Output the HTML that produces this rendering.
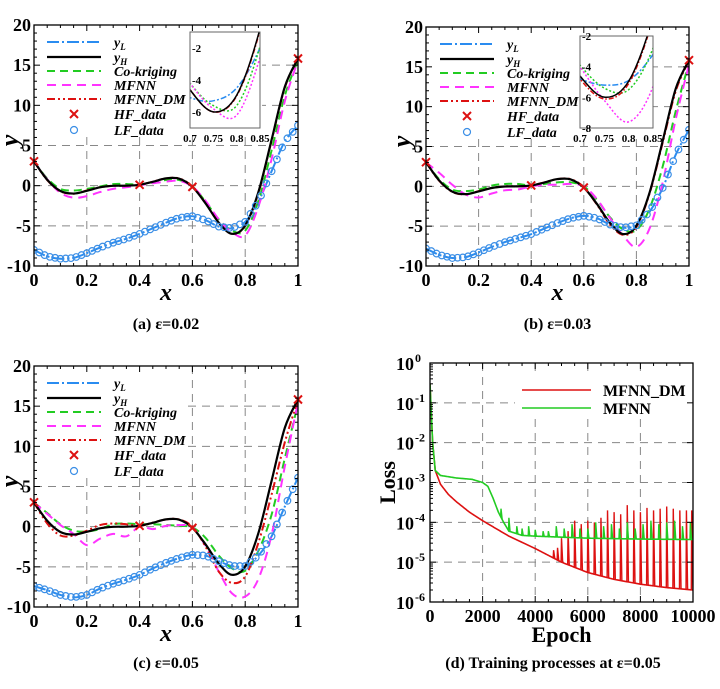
<!DOCTYPE html>
<html><head><meta charset="utf-8"><style>
html,body{margin:0;padding:0;background:#fff;}
svg{display:block;font-family:"Liberation Serif",serif;}
</style></head><body>
<svg id="fig" width="720" height="689" viewBox="0 0 720 689"></svg>
<script>
// ---------- data ----------
const XS = [0,0.05,0.1,0.15,0.2,0.25,0.3,0.35,0.4,0.45,0.5,0.55,0.6,0.65,0.7,0.75,0.8,0.85,0.9,0.95,1];
const yH = [3.03,0.74,-0.66,-0.98,-0.64,-0.21,-0.02,0.0,0.11,0.48,0.91,0.87,-0.15,-2.21,-4.61,-5.99,-4.95,-0.80,5.71,12.30,15.83];
const hfX = [0,0.4,0.6,1];
const hfY = [3.03,0.11,-0.15,15.83];

const lfA  = [-8.0,-8.8,-9.1,-9.0,-8.4,-7.7,-7.1,-6.6,-6.0,-5.3,-4.6,-4.0,-3.8,-4.3,-5.1,-5.3,-4.5,-2.0,1.8,5.5,7.5];
const ckA  = [3.0,0.9,-0.4,-0.6,-0.4,-0.1,0.2,0.2,0.15,0.4,0.7,0.7,-0.1,-2.0,-4.2,-5.6,-5.6,-1.9,4.4,11.2,15.6];
const mfA  = [3.0,0.8,-0.9,-1.5,-1.3,-0.8,-0.4,-0.2,0.05,0.3,0.5,0.6,-0.1,-1.9,-4.2,-5.8,-6.2,-2.6,3.3,10.5,15.6];
const dmA  = [3.0,0.7,-0.7,-1.0,-0.6,-0.2,0.0,0.0,0.1,0.5,0.9,0.9,-0.1,-2.2,-4.6,-6.0,-5.0,-0.9,5.6,12.2,15.8];

const lfB  = [-7.8,-8.6,-9.0,-8.9,-8.3,-7.6,-7.0,-6.5,-6.0,-5.3,-4.6,-4.0,-3.7,-4.0,-4.8,-5.2,-4.9,-3.2,-0.2,4.0,7.1];
const ckB  = [3.0,0.9,-0.4,-0.6,-0.4,0.1,0.3,0.3,0.1,0.3,0.5,0.5,0.0,-1.7,-3.9,-5.4,-5.5,-2.8,2.5,9.5,15.5];
const mfB  = [3.0,1.7,0.2,-1.0,-1.4,-0.9,-0.5,-0.4,0.0,0.2,0.2,0.3,0.0,-1.6,-4.0,-6.2,-7.6,-5.3,0.5,8.5,15.3];
const dmB  = [3.0,0.7,-0.7,-1.0,-0.6,-0.2,0.0,0.0,0.1,0.5,0.9,0.9,-0.1,-2.3,-4.8,-6.1,-5.1,-0.9,5.5,12.0,15.8];

const lfC  = [-7.4,-7.9,-8.5,-8.8,-8.5,-7.7,-7.1,-6.6,-6.0,-5.2,-4.5,-3.9,-3.5,-3.6,-4.3,-4.9,-4.9,-3.6,-1.2,2.5,6.1];
const ckC  = [3.0,1.7,0.3,-0.5,-0.6,-0.3,0.3,0.4,0.3,0.3,0.2,0.1,-0.1,-1.4,-3.6,-5.2,-5.5,-3.0,1.5,8.5,15.3];
const mfC  = [3.0,1.6,0.2,-0.9,-2.3,-1.5,-0.9,-1.2,0.0,-0.3,0.1,0.2,-0.1,-2.4,-5.6,-8.3,-8.7,-6.5,-1.0,7.5,15.5];
const dmC  = [3.0,0.4,-1.1,-1.1,-0.5,0.2,0.4,0.3,0.1,0.5,0.9,0.9,0.0,-2.5,-5.6,-7.0,-6.2,-2.0,4.0,10.5,15.8];

const xTicks = [0,0.2,0.4,0.6,0.8,1];
const xTickLabels = ["0","0.2","0.4","0.6","0.8","1"];
const yTicks = [-10,-5,0,5,10,15,20];

const redEpochs = [0,100,200,400,700,1000,1500,2000,3000,4000,5000,6000,7000,8000,9000,10000];
const redLoss = [0.3,0.01,0.002,0.0009,0.0005,0.00033,0.00018,0.00011,0.000045,0.000022,0.00001,0.0000055,0.0000037,0.0000028,0.0000023,0.000002];
const greenEpochs = [0,100,200,400,1000,1600,2000,2200,2400,2600,2800,3000,3500,4000,6000,8000,10000];
const greenLoss = [0.3,0.01,0.002,0.0015,0.0013,0.0012,0.001,0.0008,0.0004,0.00018,0.0001,0.00006,0.000047,0.000045,0.00004,0.000038,0.000037];
const redSpikeEpochs = [4700,4850,5000,5250,5500,5750,6000,6250,6500,6750,7000,7250,7500,7750,8000,8250,8500,8750,9000,9250,9500,9750,9950];
const redSpikeLoss = [2e-5,2.3e-5,4e-5,6e-5,1.1e-4,9e-5,1.1e-4,1e-4,1.3e-4,2e-4,1.8e-4,1.6e-4,2.7e-4,2e-4,1.8e-4,2.3e-4,2e-4,2.2e-4,2.5e-4,2.2e-4,2e-4,2e-4,2e-4];
const greenSpikeEpochs = [2700,3000,3300,3500,3750,4000,4300,4500,4800,5100,5400,5700,6000,6300,6600,6900,7200,7500,7800,8100,8400,8700,9000,9300,9600,9900];
const greenSpikeLoss = [2.2e-4,1.3e-4,8e-5,7e-5,8e-5,6.5e-5,6e-5,6e-5,8e-5,7e-5,9e-5,7e-5,7e-5,1e-4,8e-5,9e-5,7e-5,1e-4,7e-5,9e-5,1.1e-4,9e-5,1e-4,1.1e-4,8e-5,1e-4];
const epochTicks = [0,2000,4000,6000,8000,10000];
const lossExps = [0,-1,-2,-3,-4,-5,-6];

// ---------- helpers ----------
const NS = "http://www.w3.org/2000/svg";
const svg = document.getElementById("fig");
function mk(tag, attrs, parent){
  const e = document.createElementNS(NS, tag);
  for (const k in attrs) e.setAttribute(k, attrs[k]);
  (parent || svg).appendChild(e);
  return e;
}
function catmull(p){
  if (p.length < 2) return "";
  let d = "M" + p[0][0].toFixed(2) + "," + p[0][1].toFixed(2);
  for (let i = 0; i < p.length - 1; i++){
    const p0 = p[i-1] || p[i], p1 = p[i], p2 = p[i+1], p3 = p[i+2] || p2;
    const c1x = p1[0] + (p2[0]-p0[0])/6, c1y = p1[1] + (p2[1]-p0[1])/6;
    const c2x = p2[0] - (p3[0]-p1[0])/6, c2y = p2[1] - (p3[1]-p1[1])/6;
    d += " C" + c1x.toFixed(2)+","+c1y.toFixed(2)+" "+c2x.toFixed(2)+","+c2y.toFixed(2)+" "+p2[0].toFixed(2)+","+p2[1].toFixed(2);
  }
  return d;
}
function lerp(xa, ya, x){
  for (let i = 0; i < xa.length-1; i++){
    if (x <= xa[i+1]){ const t = (x-xa[i])/(xa[i+1]-xa[i]); return ya[i] + t*(ya[i+1]-ya[i]); }
  }
  return ya[ya.length-1];
}
const STY = {
  yL:{stroke:"#2a8cf0", dash:"12 3 2 3", w:2},
  yH:{stroke:"#000", dash:"", w:2.2},
  ck:{stroke:"#22cc22", dash:"8 5", w:2},
  mf:{stroke:"#ff33ff", dash:"9 6", w:2},
  dm:{stroke:"#dd1111", dash:"8 3 2 3 2 3", w:2}
};
let clipId = 0;

function panel(P){
  const g = mk("g", {});
  
  
  const xs = v => P.x0 + v*(P.x1-P.x0);
  const ys = v => P.yb + (v+10)/30*(P.yt-P.yb);
  // grid
  const grid = mk("g", {stroke:"#888", "stroke-width":1, "stroke-dasharray":"8 6", fill:"none"}, g);
  
  
  xTicks.slice(1,-1).forEach(v => mk("line",{x1:xs(v),x2:xs(v),y1:P.yt,y2:P.yb},grid));
  yTicks.slice(1,-1).forEach(v => mk("line",{x1:P.x0,x2:P.x1,y1:ys(v),y2:ys(v)},grid));
  // legend cover
  mk("rect",{x:P.x0+1,y:P.yt+1,width:xs(P.coverX)-P.x0,height:ys(P.coverY)-P.yt,fill:"#fff"},g);
  // clip
  const cid = "c" + (clipId++);
  const cp = mk("clipPath",{id:cid},g);
  mk("rect",{x:P.x0,y:P.yt,width:P.x1-P.x0,height:P.yb-P.yt},cp);
  const plot = mk("g",{"clip-path":"url(#"+cid+")"},g);
  const series = [["yL",P.lf],["ck",P.ck],["mf",P.mf],["dm",P.dm],["yH",yH]];
  series.forEach(([k,arr]) => {
    const s = STY[k];
    const path = mk("path",{d:catmull(XS.map((x,i)=>[xs(x),ys(arr[i])])),fill:"none",stroke:s.stroke,"stroke-width":s.w,"stroke-dasharray":s.dash},plot);
    
    
  });
  // LF markers
  for (let t = 0; t <= 1.0001; t += 0.02){
    const c = mk("circle",{cx:xs(t),cy:ys(lerp(XS,P.lf,t)),r:3.3,fill:"none",stroke:"#3a8ee6","stroke-width":1.2},plot);
    
    
  }
  // HF markers
  hfX.forEach((x,i) => {
    const cx = xs(x), cy = ys(hfY[i]);
    const m = mk("path",{d:`M${cx-4},${cy-4}L${cx+4},${cy+4}M${cx-4},${cy+4}L${cx+4},${cy-4}`,stroke:"#dd1111","stroke-width":2},g);
    
    
  });
  // frame
  const fr = mk("rect",{x:P.x0,y:P.yt,width:P.x1-P.x0,height:P.yb-P.yt,fill:"none",stroke:"#000","stroke-width":1.3},g);
  
  
  // ticks
  for (let v = 0; v <= 1.0001; v += 0.05){
    const big = Math.abs(v*5 - Math.round(v*5)) < 1e-6;
    mk("line",{x1:xs(v),x2:xs(v),y1:P.yb,y2:P.yb-(big?6:3),stroke:"#000","stroke-width":1},g);
    mk("line",{x1:xs(v),x2:xs(v),y1:P.yt,y2:P.yt+(big?6:3),stroke:"#000","stroke-width":1},g);
  }
  for (let v = -10; v <= 20; v += 1){
    const big = v % 5 === 0;
    mk("line",{x1:P.x0,x2:P.x0+(big?6:3),y1:ys(v),y2:ys(v),stroke:"#000","stroke-width":1},g);
    mk("line",{x1:P.x1,x2:P.x1-(big?6:3),y1:ys(v),y2:ys(v),stroke:"#000","stroke-width":1},g);
  }
  xTicks.forEach((v,i) => {
    const t = mk("text",{x:xs(v),y:P.yb+20,"text-anchor":"middle","font-size":18,"font-weight":"bold"},g);
    t.textContent = xTickLabels[i];
    
    
  });
  yTicks.forEach(v => {
    const t = mk("text",{x:P.x0-3,y:ys(v)+6,"text-anchor":"end","font-size":18,"font-weight":"bold"},g);
    t.textContent = String(v);
    
    
  });
  const xl = mk("text",{x:(P.x0+P.x1)/2,y:P.yb+34,"text-anchor":"middle","font-size":24,"font-weight":"bold","font-style":"italic"},g);
  xl.textContent = "x";
  
  
  const yl = mk("text",{x:0,y:0,"text-anchor":"middle","font-size":26,"font-weight":"bold","font-style":"italic",transform:`translate(${P.x0-16},${(P.yt+P.yb)/2-5}) rotate(-90)`},g);
  yl.textContent = "y";
  
  
  const cap = mk("text",{x:(P.x0+P.x1)/2,y:P.capY,"text-anchor":"middle","font-size":16,"font-weight":"bold"},g);
  cap.textContent = P.caption;
  
  
  // legend
  const lg = mk("g",{},g);
  
  
  const offs = [17,32,46,60,74,89,105];
  const names = ["yL","yH","ck","mf","dm","hf","lf"];
  const labels = ["y","y","Co-kriging","MFNN","MFNN_DM","HF_data","LF_data"];
  const lx0 = P.x0 + P.legX, lx1 = lx0 + 54, tx = lx1 + 13;
  names.forEach((k,i) => {
    const y = P.yt + offs[i];
    const ent = mk("g",{},lg);
    
    
    if (STY[k]) mk("line",{x1:lx0,x2:lx1,y1:y,y2:y,stroke:STY[k].stroke,"stroke-width":STY[k].w,"stroke-dasharray":STY[k].dash},ent);
    if (k === "hf") mk("path",{d:`M${lx0+23},${y-4}L${lx0+31},${y+4}M${lx0+23},${y+4}L${lx0+31},${y-4}`,stroke:"#dd1111","stroke-width":2},ent);
    if (k === "lf") mk("circle",{cx:lx0+27,cy:y,r:3.5,fill:"none",stroke:"#3a8ee6","stroke-width":1.2},ent);
    const t = mk("text",{x:tx,y:y+5,"font-size":14,"font-weight":"bold","font-style":"italic"},ent);
    t.textContent = labels[i];
    if (k === "yL" || k === "yH"){
      const s = mk("tspan",{"font-size":9,dy:3},t);
      s.textContent = k === "yL" ? "L" : "H";
    }
  });
  // inset
  if (P.inset){
    const I = P.inset;
    const ix = v => I.x + (v-0.7)/0.15*I.w;
    const iy = v => I.y + (I.yr[1]-v)/(I.yr[1]-I.yr[0])*I.h;
    const ig = mk("g",{},g);
    
    
    mk("rect",{x:I.x,y:I.y,width:I.w,height:I.h,fill:"#fff"},ig);
    const icid = "c" + (clipId++);
    const icp = mk("clipPath",{id:icid},ig);
    mk("rect",{x:I.x,y:I.y,width:I.w,height:I.h},icp);
    const ip = mk("g",{"clip-path":"url(#"+icid+")"},ig);
    const idash = {yL:"6 2 2 2",yH:"",ck:"2 2",mf:"2 2",dm:"5 2 1.5 2"};
    series.forEach(([k,arr]) => {
      const p = mk("path",{d:catmull(XS.map((x,i)=>[ix(x),iy(arr[i])])),fill:"none",stroke:STY[k].stroke,"stroke-width":1.5,"stroke-dasharray":idash[k]},ip);
      
      
    });
    mk("rect",{x:I.x,y:I.y,width:I.w,height:I.h,fill:"none",stroke:"#666","stroke-width":1},ig);
    [0.7,0.75,0.8,0.85].forEach(v => {
      const t = mk("text",{x:ix(v),y:I.y+I.h+14,"text-anchor":"middle","font-size":11,"font-weight":"bold"},ig);
      t.textContent = String(v);
    });
    I.ticks.forEach(v => {
      const t = mk("text",{x:I.x+2,y:iy(v)+4,"font-size":11,"font-weight":"bold"},ig);
      t.textContent = String(v);
    });
  }
}

panel({id:"a",x0:34,x1:298,yt:25,yb:266,lf:lfA,ck:ckA,mf:mfA,dm:dmA,caption:"(a) ε=0.02",capY:329,legX:13,coverX:0.86,coverY:6.5,
  inset:{x:190,y:32,w:70,h:96,yr:[-7,-1],ticks:[-2,-4,-6]}});
panel({id:"b",x0:426,x1:689,yt:27,yb:266,lf:lfB,ck:ckB,mf:mfB,dm:dmB,caption:"(b) ε=0.03",capY:329,legX:14,coverX:0.86,coverY:6.5,
  inset:{x:580,y:36,w:73,h:92,yr:[-8,-2],ticks:[-2,-4,-6,-8]}});
panel({id:"c",x0:34,x1:298,yt:366,yb:607,lf:lfC,ck:ckC,mf:mfC,dm:dmC,caption:"(c) ε=0.05",capY:668,legX:13,coverX:0.57,coverY:6.5});

// ---------- panel d ----------
(function(){
  const x0=430,x1=693,yt=363,yb=602;
  const ex = e => x0 + e/10000*(x1-x0);
  const ly = v => yt + (-Math.log10(v))/6*(yb-yt);
  const g = mk("g",{});
  
  
  const grid = mk("g",{stroke:"#888","stroke-width":1,"stroke-dasharray":"8 6"},g);
  
  
  epochTicks.slice(1,-1).forEach(e => mk("line",{x1:ex(e),x2:ex(e),y1:yt,y2:yb},grid));
  lossExps.slice(1,-1).forEach(p => mk("line",{x1:x0,x2:x1,y1:ly(Math.pow(10,p)),y2:ly(Math.pow(10,p))},grid));
  mk("rect",{x:515,y:377,width:175,height:42,fill:"#fff"},g);
  const cp = mk("clipPath",{id:"cd"},g);
  mk("rect",{x:x0,y:yt,width:x1-x0,height:yb-yt},cp);
  const pl = mk("g",{"clip-path":"url(#cd)"},g);
  function logInterp(ea, la, e){ return Math.pow(10, lerp(ea, la.map(Math.log10), e)); }
  function curve(ea, la, se, sl, color, name){
    let d = "";
    for (let e = 0; e <= 10000; e += 25){
      d += (e===0?"M":"L") + ex(e).toFixed(2) + "," + ly(logInterp(ea,la,e)).toFixed(2);
    }
    const p = mk("path",{d:d,fill:"none",stroke:color,"stroke-width":1.6},pl);
    
    
    se.forEach((e,i) => {
      const b1 = logInterp(ea,la,e-15), b2 = logInterp(ea,la,e+45);
      const s = mk("path",{d:`M${ex(e-15)},${ly(b1)}L${ex(e)},${ly(sl[i])}L${ex(e+45)},${ly(b2)}`,fill:"none",stroke:color,"stroke-width":1.4},pl);
      
      
    });
  }
  curve(redEpochs, redLoss, redSpikeEpochs, redSpikeLoss, "#dd1111", "mfnn-dm");
  curve(greenEpochs, greenLoss, greenSpikeEpochs, greenSpikeLoss, "#22cc22", "mfnn");
  const fr = mk("rect",{x:x0,y:yt,width:x1-x0,height:yb-yt,fill:"none",stroke:"#000","stroke-width":1.3},g);
  
  
  for (let e = 0; e <= 10000; e += 500){
    const big = e % 2000 === 0;
    mk("line",{x1:ex(e),x2:ex(e),y1:yb,y2:yb-(big?6:3),stroke:"#000"},g);
    mk("line",{x1:ex(e),x2:ex(e),y1:yt,y2:yt+(big?6:3),stroke:"#000"},g);
  }
  lossExps.forEach(p => {
    const y = ly(Math.pow(10,p));
    mk("line",{x1:x0,x2:x0+6,y1:y,y2:y,stroke:"#000"},g);
    mk("line",{x1:x1,x2:x1-6,y1:y,y2:y,stroke:"#000"},g);
    for (let m = 2; m < 10 && p > -6; m++){
      const ym = ly(m*Math.pow(10,p-1));
      mk("line",{x1:x0,x2:x0+3,y1:ym,y2:ym,stroke:"#000"},g);
    }
    const t = mk("text",{x:x0-16,y:y+7,"text-anchor":"end","font-size":18,"font-weight":"bold"},g);
    t.textContent = "10";
    
    
    const s = mk("text",{x:x0-15,y:y-1,"font-size":12,"font-weight":"bold"},g);
    s.textContent = String(p);
  });
  epochTicks.forEach(e => {
    const t = mk("text",{x:ex(e),y:yb+20,"text-anchor":"middle","font-size":18,"font-weight":"bold"},g);
    t.textContent = String(e);
    
    
  });
  const xt = mk("text",{x:(x0+x1)/2,y:yb+40,"text-anchor":"middle","font-size":22,"font-weight":"bold"},g);
  xt.textContent = "Epoch";
  
  
  const yt2 = mk("text",{x:0,y:0,"text-anchor":"middle","font-size":22,"font-weight":"bold",transform:`translate(395,${(yt+yb)/2}) rotate(-90)`},g);
  yt2.textContent = "Loss";
  
  
  const cap = mk("text",{x:553,y:668,"text-anchor":"middle","font-size":16,"font-weight":"bold"},g);
  cap.textContent = "(d) Training processes at ε=0.05";
  
  
  const lg = mk("g",{},g);
  
  
  [["MFNN_DM","#dd1111",390],["MFNN","#22cc22",408]].forEach(([n,c,y]) => {
    const ent = mk("g",{},lg);
    
    
    mk("line",{x1:522,x2:591,y1:y,y2:y,stroke:c,"stroke-width":1.6},ent);
    const t = mk("text",{x:603,y:y+6,"font-size":16,"font-weight":"bold"},ent);
    t.textContent = n;
  });
})();
</script>
</body></html>
